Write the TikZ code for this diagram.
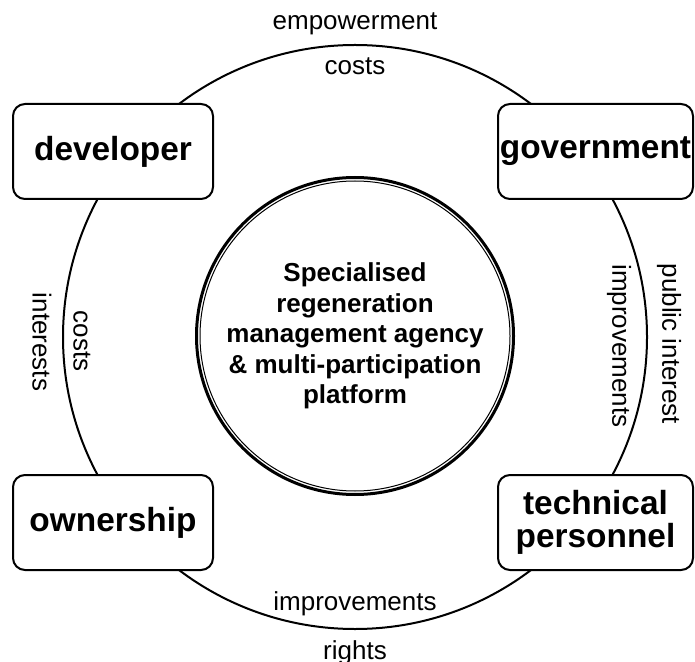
\documentclass[tikz,border=0pt]{standalone}
\usepackage{fontspec}
\setmainfont{Liberation Sans}
\usetikzlibrary{positioning}

\begin{document}
\begin{tikzpicture}[x=0.5pt, y=-0.5pt,
		actor/.style={draw, line width=1pt, rounded corners=6pt, fill=white, align=center, inner sep=0pt, minimum height=47.5pt, font=\fontsize{16.7}{16.5}\selectfont\bfseries},
		hub/.style={circle, draw, line width=1.5pt, minimum size=158.5pt, inner sep=0pt, align=center, font=\fontsize{13}{15.3}\selectfont\bfseries},
		flow/.style={inner sep=0pt, font=\fontsize{13}{15}\selectfont},
		sideflow/.style={flow, rotate=-90}]
				\useasboundingbox (0, 0) rectangle (695, 662);
				\node[circle, draw, line width=1pt, minimum size=292pt, inner sep=0pt] (ring) at (355, 337) {};
				\node[actor, minimum width=100pt] (developer) at (113, 151.5) {developer};
				\node[actor, minimum width=97.5pt] (government) at (595.5, 151.5) {government};
				\node[actor, minimum width=100pt] (ownership) at (113, 522.5) {ownership};
				\node[actor, minimum width=97.5pt] (technical) at (595.5, 522.5) {technical\\personnel};
				\node[hub] (hub) at (355, 336) {Specialised\\regeneration\\management agency\\\& multi-participation\\platform};
				\draw[line width=0.5pt] (hub.center) circle (155);
				\node[flow, above=4.5pt of ring.north] (empowerment) {empowerment};
				\node[flow, below=6.5pt of ring.north] (costsTop) {costs};
				\node[flow, above=7pt of ring.south] (improvementsBottom) {improvements};
				\node[flow, below=5pt of ring.south] (rights) {rights};
				\node[sideflow] (costsLeft) at ([xshift=10pt, yshift=-2pt]ring.west) {costs};
				\node[sideflow] (interests) at ([xshift=-10pt, yshift=-2.5pt]ring.west) {interests};
				\node[sideflow] (improvementsRight) at ([xshift=-14.5pt, yshift=-4.5pt]ring.east) {improvements};
				\node[sideflow] (publicInterest) at ([xshift=10.5pt, yshift=-3.5pt]ring.east) {public interest};
			\end{tikzpicture}
\end{document}
